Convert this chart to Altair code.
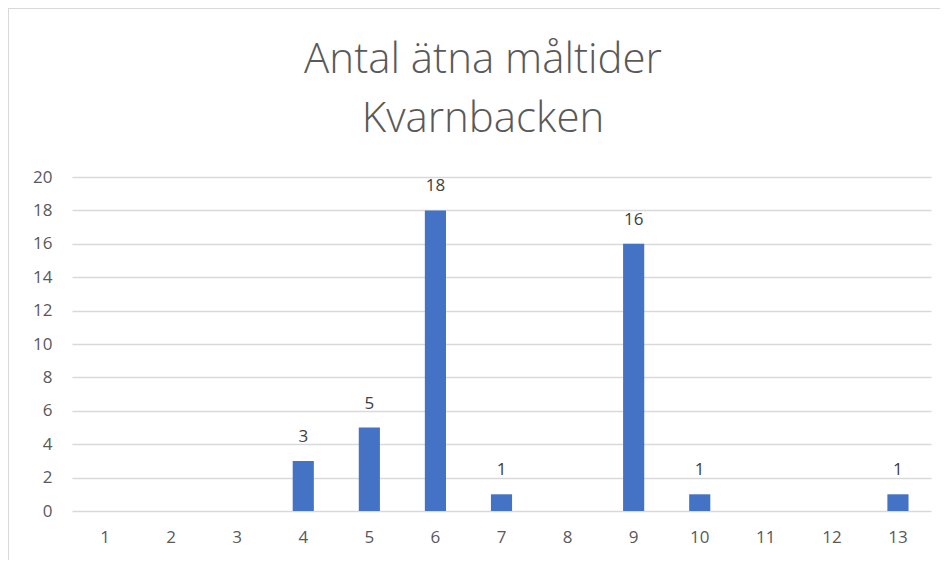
import altair as alt
import pandas as pd

categories = [str(i) for i in range(1, 14)]
values = [0, 0, 0, 3, 5, 18, 1, 0, 16, 1, 0, 0, 1]
y_ticks = list(range(0, 21, 2))
title_lines = ["Antal ätna måltider", "Kvarnbacken"]

df = pd.DataFrame({"cat": categories, "val": values})
df["label"] = [str(v) if v > 0 else "" for v in values]
tdf = pd.DataFrame({"t": title_lines, "row": [0, 1]})

W, H = 859, 334
PL, PT, PR, PB = 64, 169, 9, 49

x = alt.X("cat:N", sort=categories, title=None,
          scale=alt.Scale(paddingInner=0.68, paddingOuter=0.34),
          axis=alt.Axis(labelAngle=0, labelFont="Open Sans", labelFontSize=17,
                        labelColor="#595959", ticks=False, domain=False,
                        grid=False, labelPadding=18))
y = alt.Y("val:Q", title=None,
          scale=alt.Scale(domain=[0, 20], nice=False),
          axis=alt.Axis(values=y_ticks, labelFont="Open Sans", labelFontSize=17,
                        labelColor="#595959", ticks=False, domain=False,
                        labelOverlap=False, tickCount=11,
                        gridColor="#d9d9d9", gridWidth=1.3, labelPadding=20))

bars = alt.Chart(df).mark_bar(color="#4472C4").encode(x=x, y=y)
labels = alt.Chart(df).mark_text(
    dy=-24, font="Open Sans", fontSize=17, color="#404040"
).encode(x=x, y=y, text="label:N")

title1 = alt.Chart(tdf).transform_filter("datum.row == 0").mark_text(
    font="Open Sans", fontSize=42, fontWeight=300, color="#595959",
    baseline="alphabetic", align="center"
).encode(x=alt.value(411), y=alt.value(-104), text="t:N")
title2 = alt.Chart(tdf).transform_filter("datum.row == 1").mark_text(
    font="Open Sans", fontSize=42, fontWeight=300, color="#595959",
    baseline="alphabetic", align="center"
).encode(x=alt.value(411), y=alt.value(-45), text="t:N")

border = alt.Chart(df).mark_rect(
    fill=None, stroke="#d9d9d9", strokeWidth=1.5
).encode(x=alt.value(-64), x2=alt.value(W + 40), y=alt.value(-169), y2=alt.value(H + 80))

chart = alt.layer(bars, labels, title1, title2, border).properties(
    width=W, height=H,
    padding={"left": PL, "top": PT, "right": PR, "bottom": PB},
    autosize=alt.AutoSizeParams(type="none"),
    background="white",
).configure_view(stroke="transparent", strokeWidth=0)

chart.save("out.html", embed_options={"renderer": "svg", "actions": False})
